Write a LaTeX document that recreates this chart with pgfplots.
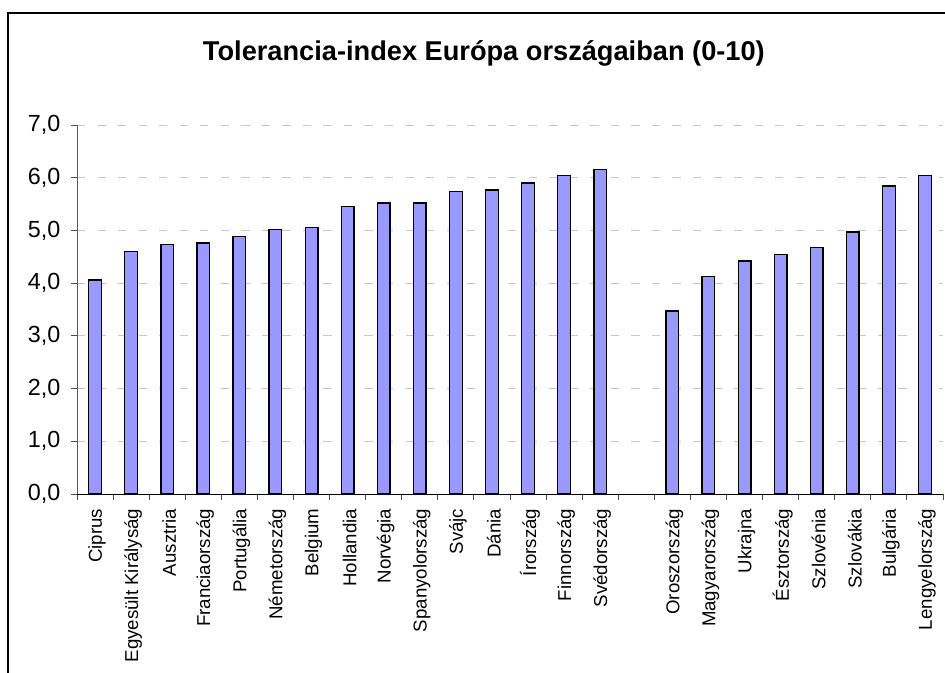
\documentclass[border=0pt]{standalone}
\usepackage{fontspec}
\setmainfont{Liberation Sans}
\usepackage{pgfplots}
\usepackage{pgfplotstable}
\pgfplotsset{compat=1.18}
\definecolor{barfill}{RGB}{153,153,255}
\definecolor{gridc}{RGB}{200,200,200}
\pgfplotstableread{
x y
0 4.06
1 4.60
2 4.73
3 4.76
4 4.89
5 5.02
6 5.05
7 5.45
8 5.52
9 5.52
10 5.74
11 5.77
12 5.90
13 6.04
14 6.16
16 3.47
17 4.13
18 4.42
19 4.54
20 4.67
21 4.97
22 5.84
23 6.04
}\datatable
\begin{document}
\begin{tikzpicture}
\path[use as bounding box] (0,0) rectangle (708.75pt,-504.75pt);
\draw[line width=1.5pt] (6.2pt,-530pt) -- (6.2pt,-9.9pt) -- (730pt,-9.9pt);
\node[font=\fontsize{20.4}{24}\selectfont\bfseries, anchor=base] at (362.9pt,-45.75pt) {Tolerancia-index Európa országaiban (0-10)};
\begin{axis}[
  at={(57.75pt,-370.5pt)}, anchor=south west,
  scale only axis, width=649.5pt, height=276.75pt,
  xmin=-0.5, xmax=23.5, ymin=0, ymax=7,
  axis x line*=bottom, axis y line*=left,
  axis line style={-, line width=0.75pt},
  x axis line style={black},
  y axis line style={black!65},
  tick align=outside,
  major tick length=4.5pt,
  tick style={black!70, line width=0.75pt},
  xtick={-0.5,0.5,...,23.5},
  xticklabels={},
  extra x ticks={0,1,2,3,4,5,6,7,8,9,10,11,12,13,14,16,17,18,19,20,21,22,23},
  extra x tick labels={Ciprus,Egyesült Királyság,Ausztria,Franciaország,Portugália,Németország,Belgium,Hollandia,Norvégia,Spanyolország,Svájc,Dánia,Írország,Finnország,Svédország,Oroszország,Magyarország,Ukrajna,Észtország,Szlovénia,Szlovákia,Bulgária,Lengyelország},
  extra x tick style={major tick length=0pt},
  x tick label style={rotate=90, anchor=east, xshift=-7.5pt, yshift=-1.5pt, font=\fontsize{14}{16}\selectfont},
  ytick={0,1,...,7},
  y tick label style={font=\fontsize{17.5}{19}\selectfont, xshift=-4.5pt,
    /pgf/number format/fixed, /pgf/number format/fixed zerofill,
    /pgf/number format/precision=1, /pgf/number format/use comma},
  /pgf/number format/assume math mode=true,
  ymajorgrids,
  major grid style={gridc, line width=0.75pt, dash pattern=on 6.2pt off 9.2pt},
  ybar, bar width=9.5pt,
]
\addplot[ybar, fill=barfill, draw=black, line width=1pt] table[x=x, y=y] {\datatable};
\end{axis}
\end{tikzpicture}
\end{document}
